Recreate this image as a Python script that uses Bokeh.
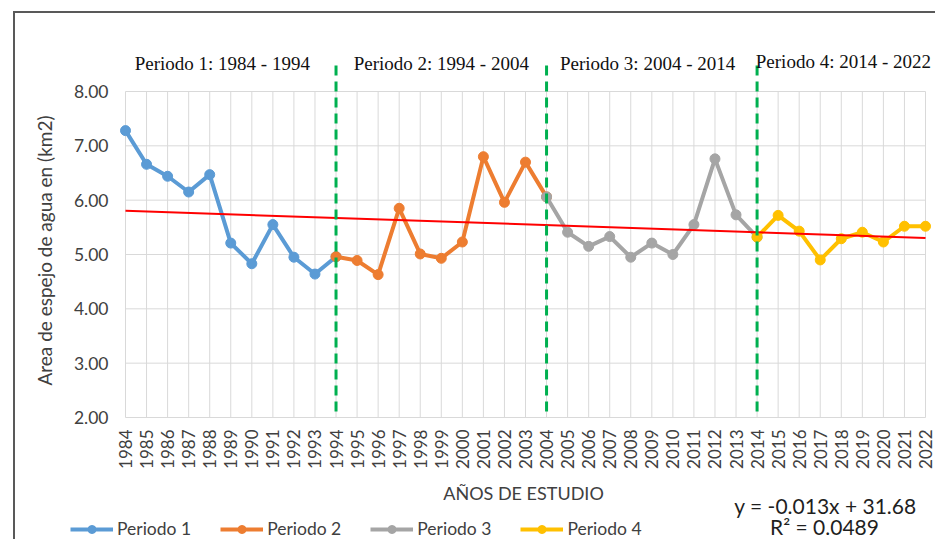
import numpy as np
from bokeh.plotting import figure
from bokeh.models import (Range1d, FixedTicker, PrintfTickFormatter, Label,
                          Legend, LegendItem)
from bokeh.embed import file_html
from bokeh.resources import INLINE

# ---------------- data ----------------
years_p1 = [1984, 1985, 1986, 1987, 1988, 1989, 1990, 1991, 1992, 1993, 1994]
area_p1 = [7.28, 6.66, 6.44, 6.15, 6.47, 5.21, 4.83, 5.55, 4.95, 4.64, 4.96]
years_p2 = [1994, 1995, 1996, 1997, 1998, 1999, 2000, 2001, 2002, 2003, 2004]
area_p2 = [4.96, 4.89, 4.63, 5.85, 5.01, 4.93, 5.23, 6.80, 5.96, 6.70, 6.06]
years_p3 = [2004, 2005, 2006, 2007, 2008, 2009, 2010, 2011, 2012, 2013, 2014]
area_p3 = [6.06, 5.41, 5.15, 5.33, 4.95, 5.21, 5.00, 5.55, 6.76, 5.73, 5.32]
years_p4 = [2014, 2015, 2016, 2017, 2018, 2019, 2020, 2021, 2022]
area_p4 = [5.32, 5.72, 5.43, 4.90, 5.29, 5.41, 5.23, 5.52, 5.52]

series_names = ["Periodo 1", "Periodo 2", "Periodo 3", "Periodo 4"]
period_labels = ["Periodo 1: 1984 - 1994", "Periodo 2: 1994 - 2004",
                 "Periodo 3: 2004 - 2014", "Periodo 4: 2014 - 2022"]
period_bounds = [1994, 2004, 2014]
y_ticks = [2, 3, 4, 5, 6, 7, 8]
equation_text = "y = -0.013x + 31.68"
r2_text = "R\u00b2 = 0.0489"
x_title = "A\u00d1OS DE ESTUDIO"
y_title = "Area de espejo de agua en (km2)"

# ---------------- layout helpers (picture pixels -> data) ----------------
W, H = 935, 539
X0_PX, X1_PX = 125.0, 925.0   # px of first / last year
Y2_PX, Y8_PX = 417.0, 91.0    # px of 2.00 / 8.00
all_years = sorted(set(years_p1 + years_p2 + years_p3 + years_p4))
ppx = (X1_PX - X0_PX) / (all_years[-1] - all_years[0])
ppy = (Y2_PX - Y8_PX) / (y_ticks[-1] - y_ticks[0])


def xd(px):
    return all_years[0] + (px - X0_PX) / ppx


def yd(py):
    return y_ticks[0] + (Y2_PX - py) / ppy


p = figure(width=W, height=H, output_backend="svg", toolbar_location=None,
           x_range=Range1d(xd(0), xd(W)), y_range=Range1d(yd(H), yd(0)),
           min_border_left=0, min_border_right=0, min_border_top=0, min_border_bottom=0)
p.border_fill_color = None
p.background_fill_color = None
p.outline_line_color = None
p.styles = {"box-shadow": "inset 13px 11px 0 0 #ffffff, inset 15px 13px 0 0 #595959"}

p.xgrid.grid_line_color = None
p.ygrid.grid_line_color = None

TXT = "#404040"
# axes, drawn inside the frame at the data origin
xa = p.xaxis[0]
xa.fixed_location = y_ticks[0]
xa.ticker = FixedTicker(ticks=all_years)
xa.major_label_orientation = np.pi / 2
xa.axis_line_color = None
xa.major_tick_line_color = None
xa.minor_tick_line_color = None
xa.major_tick_out = 0
xa.major_tick_in = 0
xa.major_label_standoff = 12
xa.major_label_text_font = "Lato"
xa.major_label_text_font_size = "17px"
xa.major_label_text_color = TXT

ya = p.yaxis[0]
ya.fixed_location = all_years[0]
ya.ticker = FixedTicker(ticks=y_ticks)
ya.formatter = PrintfTickFormatter(format="%.2f")
ya.axis_line_color = None
ya.major_tick_line_color = None
ya.minor_tick_line_color = None
ya.major_tick_out = 0
ya.major_tick_in = 0
ya.major_label_standoff = 17
ya.major_label_text_font = "Lato"
ya.major_label_text_font_size = "17.5px"
ya.major_label_text_color = TXT

# gridlines (only inside the data area)
GRID = "#d9d9d9"
p.segment(x0=all_years, y0=[y_ticks[0]] * len(all_years), x1=all_years,
          y1=[y_ticks[-1]] * len(all_years), line_color=GRID, line_width=1)
p.segment(x0=[all_years[0]] * len(y_ticks), y0=y_ticks, x1=[all_years[-1]] * len(y_ticks),
          y1=y_ticks, line_color=GRID, line_width=1)

colors = ["#5B9BD5", "#ED7D31", "#A5A5A5", "#FFC000"]
series = [(years_p1, area_p1), (years_p2, area_p2), (years_p3, area_p3), (years_p4, area_p4)]
items = []
for (xs, ys), c, name in zip(series, colors, series_names):
    lr = p.line(xs, ys, line_color=c, line_width=4, line_join="round")
    sr = p.scatter(xs, ys, size=10, fill_color=c, line_color=c)
    items.append(LegendItem(label=name, renderers=[lr, sr]))

# linear trend over all years
vals = {}
for xs, ys in series:
    for x, y in zip(xs, ys):
        vals[x] = y
tx = np.array(all_years, dtype=float)
ty = np.array([vals[x] for x in all_years])
coef = np.polyfit(tx, ty, 1)
ends = [all_years[0], all_years[-1]]
p.line(ends, list(np.polyval(coef, ends)), line_color="#FF0000", line_width=2)

# period separators
top_sep = yd(65)
p.segment(x0=period_bounds, y0=[top_sep] * 3, x1=period_bounds, y1=[y_ticks[0]] * 3,
          line_color="#00B050", line_width=3, line_dash="10 6")

# period labels
starts = [years_p1[0], years_p2[0], years_p3[0], years_p4[0]]
stops = [years_p1[-1], years_p2[-1], years_p3[-1], years_p4[-1]]
nudges = [-0.4, 0.0, -0.2, 0.1]
mid_px = [62.6, 62.6, 62.6, 60.6]
for txt, a, b, n, mp in zip(period_labels, starts, stops, nudges, mid_px):
    p.add_layout(Label(x=(a + b) / 2 + n, y=yd(mp), text=txt, text_align="center",
                       text_baseline="middle", text_font="Liberation Serif",
                       text_font_size="19px", text_color="#111111"))

# axis titles
p.add_layout(Label(x=xd(43.5), y=yd(250), text=y_title, angle=np.pi / 2,
                   text_align="center", text_baseline="middle", text_font="Lato",
                   text_font_size="19px", text_color=TXT))
p.add_layout(Label(x=xd(523), y=yd(492.5), text=x_title, text_align="center",
                   text_baseline="middle", text_font="Lato", text_font_size="18px",
                   text_color=TXT))

# equation (raised so that both lines fit inside the picture)
p.add_layout(Label(x=xd(825), y=yd(505), text=equation_text, text_align="center",
                   text_baseline="middle", text_font="Lato", text_font_size="21px",
                   text_color="#1f1f1f"))
p.add_layout(Label(x=xd(824), y=yd(525.5), text=r2_text, text_align="center",
                   text_baseline="middle", text_font="Lato", text_font_size="21px",
                   text_color="#1f1f1f"))

# legend
legend = Legend(items=items, orientation="horizontal",
                location=(70, H - 539),
                glyph_width=43, glyph_height=20, label_standoff=4, spacing=29,
                padding=0, margin=0, border_line_color=None, background_fill_alpha=0,
                label_text_font="Lato", label_text_font_size="17.5px",
                label_text_color=TXT, label_height=20)
p.add_layout(legend)

open("out.html", "w").write(file_html(p, INLINE))
